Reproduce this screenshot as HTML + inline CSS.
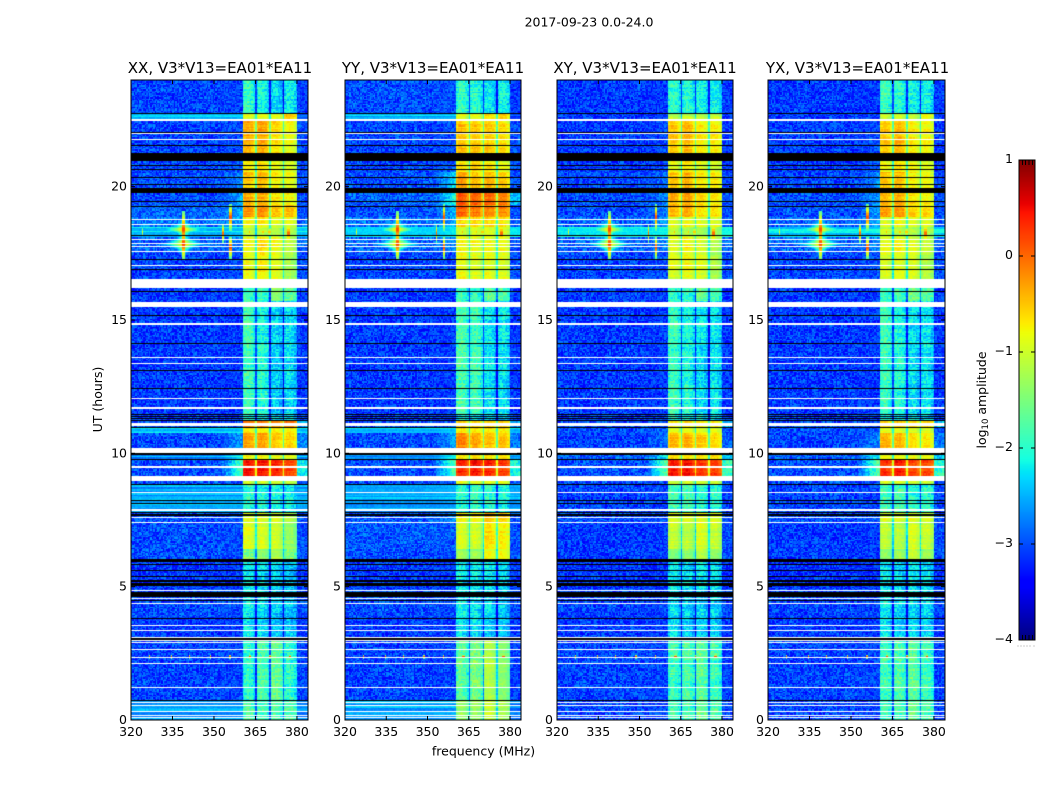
<!DOCTYPE html>
<html lang="en">
<head>
<meta charset="utf-8">
<title>2017-09-23 0.0-24.0</title>
<style>
html,body{margin:0;padding:0;background:#fff;}
#figure{position:relative;width:1050px;height:800px;overflow:hidden;background:#fff;font-family:"DejaVu Sans","Liberation Sans",sans-serif;}
canvas{position:absolute;display:block;}
#overlay{position:absolute;left:0;top:0;}
#overlay text{font-family:"DejaVu Sans","Liberation Sans",sans-serif;fill:#000;}
</style>
</head>
<body>
<div id="figure">
  <canvas id="heat-xx"></canvas>
  <canvas id="heat-yy"></canvas>
  <canvas id="heat-xy"></canvas>
  <canvas id="heat-yx"></canvas>
  <canvas id="colorbar"></canvas>
  <svg id="overlay" width="1050" height="800" viewBox="0 0 1050 800" xmlns="http://www.w3.org/2000/svg">
    <text x="589" y="26.500" text-anchor="middle" font-size="12.500">2017-09-23 0.0-24.0</text>
    <text x="220" y="73" text-anchor="middle" font-size="15">XX, V3*V13=EA01*EA11</text>
    <text x="433" y="73" text-anchor="middle" font-size="15">YY, V3*V13=EA01*EA11</text>
    <text x="645" y="73" text-anchor="middle" font-size="15">XY, V3*V13=EA01*EA11</text>
    <text x="857.500" y="73" text-anchor="middle" font-size="15">YX, V3*V13=EA01*EA11</text>
    <text x="483.500" y="755.500" text-anchor="middle" font-size="12.500">frequency (MHz)</text>
    <text transform="translate(102,399.500) rotate(-90)" text-anchor="middle" font-size="12.500">UT (hours)</text>
    <text transform="translate(986,400) rotate(-90)" text-anchor="middle" font-size="12.500">log<tspan font-size="8.500" dy="2">10</tspan><tspan dy="-2"> amplitude</tspan></text>
  </svg>
</div>
<script>
// ---- Axis ticks ----
const freqTicks = [320, 335, 350, 365, 380];
const freqTickLabels = ['320', '335', '350', '365', '380'];
const hourTicks = [0, 5, 10, 15, 20];
const hourTickLabels = ['0', '5', '10', '15', '20'];
const colorTicks = [1, 0, -1, -2, -3, -4];
const colorTickLabels = ['1', '0', '\u22121', '\u22122', '\u22123', '\u22124'];
const panelNames = ['xx', 'yy', 'xy', 'yx'];

// ---- Time segments: upper hour edge of each row of the level tables ----
const segmentTopHours = [24, 22.74, 22.54, 21.26, 20.55, 19.99, 19.76, 19.31, 18.83, 18.52, 18.08, 17.55, 16.2, 15.68, 14.14, 11.44, 11.21, 10.95, 10.76, 9.94, 9.75, 8.96, 8.81, 7.8, 7.39, 6.375, 6.04, 4.875, 3.83, 3, 0.75];

// ---- log10 amplitude by segment: background, edge at 360 MHz, four sub-bands, above 380 MHz ----
const xxLevels = [
[-3.05,-3.05,-2,-2.2,-2.4,-2.25,-3.1],[-2.5,-2.5,-1,-1,-1,-0.6,-3],[-3.05,-3,-0.45,-0.4,-0.7,-0.9,-3],[-3.05,-2.9,-0.8,-0.7,-0.9,-1,-3],
[-3,-2.7,-0.55,-0.5,-0.8,-0.9,-3],[-3,-2.7,-0.55,-0.5,-0.8,-0.9,-3],[-3,-2.5,-0.45,-0.45,-0.75,-0.85,-3],[-2.9,-2.5,-0.35,-0.3,-0.6,-0.55,-3],
[-2.8,-2.5,-0.9,-0.8,-1,-1,-2.9],[-2.3,-2.2,-1.1,-1.1,-1.2,-1.2,-2.2],[-2.9,-2.7,-0.9,-0.7,-0.9,-1.2,-2.9],[-3.05,-3,-0.9,-0.8,-0.95,-1.3,-3],
[-3.1,-3.1,-2,-1.95,-1.5,-1.7,-3.1],[-3.1,-3.1,-1.9,-2.15,-2.4,-2.35,-3.1],[-3.1,-3.1,-1.95,-2.05,-2.45,-2.35,-3.1],[-3.1,-3.1,-2.15,-2.25,-2.4,-2.4,-3.1],
[-3,-3,-0.2,-0.2,-0.3,-0.2,-2.6],[-2.4,-2.4,-0.8,-0.8,-0.8,-0.8,-2.4],[-3,-2.6,-0.35,-0.35,-0.55,-0.6,-2.7],[-2.6,-2,-0.8,-0.8,-0.9,-0.9,-2.5],
[-3,-1.7,0.35,0.35,0.25,0.1,-2.2],[-3,-3,-1.1,-1.1,-1.1,-1.2,-3],[-2.55,-2.55,-2.05,-2.15,-2.15,-2.25,-2.55],[-3,-2.9,-0.95,-0.95,-1,-1.2,-3],
[-3,-3,-0.95,-1,-1.05,-1.4,-3],[-3,-3,-1.6,-1.5,-1.3,-1.6,-3],[-3.1,-3.1,-2.25,-2.35,-2.35,-2.45,-3.1],[-3,-3,-2.2,-2.4,-2.45,-2.5,-3],
[-3.1,-3.1,-2.3,-2.4,-2.45,-2.5,-3.1],[-3.05,-3.05,-2.05,-1.85,-1.7,-2.05,-3.05],[-2.55,-2.55,-1.8,-1.9,-1.8,-1.8,-2.65]];
const yyLevels = [
[-3,-3,-2,-2.05,-2.3,-2.2,-3.1],[-2.4,-2.4,-0.9,-0.9,-0.7,-0.6,-3],[-3.05,-2.95,-0.55,-0.6,-0.6,-0.7,-3],[-3.05,-2.9,-0.8,-0.7,-0.8,-0.95,-3],
[-3,-2.2,-0.35,-0.55,-0.5,-0.6,-3],[-3,-2.2,-0.3,-0.5,-0.5,-0.6,-3],[-2.9,-1.9,0.05,-0.05,-0.05,-0.2,-2.5],[-3,-2.4,0,-0.15,-0.2,-0.25,-3],
[-2.8,-2.5,-0.7,-0.7,-0.7,-0.8,-2.9],[-2.3,-2.2,-1.05,-1,-1,-1,-2.2],[-2.9,-2.7,-0.85,-0.9,-0.9,-0.9,-3],[-3.05,-3,-0.9,-1,-0.95,-1,-3],
[-3.1,-3.1,-2,-2.05,-1.75,-1.9,-3.1],[-3.1,-3.1,-1.85,-1.95,-2.3,-2.25,-3.1],[-3.1,-3.1,-1.85,-1.9,-2.3,-2.3,-3.1],[-3.1,-3.1,-2.15,-2.25,-2.4,-2.4,-3.1],
[-3,-3,-0.7,-0.7,-0.7,-0.7,-2.6],[-2.4,-2.3,-0.75,-0.75,-0.75,-0.75,-2.4],[-3,-2.5,-0.2,-0.4,-0.55,-0.55,-2.8],[-2.6,-2,-0.7,-0.7,-0.7,-0.7,-2.5],
[-3,-1.6,0.3,0.4,0.3,0.2,-2.1],[-3,-3,-1,-1,-1,-1,-3],[-2.55,-2.5,-2.05,-1.95,-2.05,-2.15,-2.55],[-2.95,-2.6,-0.85,-0.85,-0.55,-0.65,-3],
[-2.95,-2.95,-1,-1.05,-0.7,-0.8,-3],[-3,-3,-1.4,-1.4,-0.95,-0.95,-3],[-3.1,-3.1,-2.25,-2.25,-2.25,-2.35,-3.1],[-3,-3,-2.2,-2.3,-2.35,-2.45,-3],
[-3.1,-3.1,-2.3,-2.3,-2.45,-2.45,-3.1],[-3.05,-3.05,-1.8,-1.6,-1.25,-1.5,-3.05],[-2.55,-2.55,-1.4,-1.4,-1.1,-1.3,-2.75]];
const xyLevels = [
[-3.1,-3.1,-2,-2.05,-2.2,-2.2,-3.1],[-3.1,-3.1,-1.2,-1.1,-1.2,-1.1,-3.1],[-3.1,-3,-0.6,-0.5,-0.8,-0.8,-3.1],[-3.1,-3,-0.9,-0.7,-0.9,-1,-3.1],
[-3.05,-2.8,-0.6,-0.5,-0.8,-0.8,-3],[-3.05,-2.8,-0.6,-0.5,-0.8,-0.8,-3],[-3,-2.7,-0.5,-0.45,-0.7,-0.8,-3],[-3,-2.7,-0.45,-0.4,-0.7,-0.7,-3],
[-2.9,-2.5,-1,-0.9,-1,-1,-2.9],[-2.1,-2,-1.1,-1.2,-1.3,-1.3,-2],[-2.9,-2.7,-0.95,-0.8,-1,-1.2,-2.9],[-3.05,-3,-1,-0.9,-1,-1.3,-3],
[-3.1,-3.1,-2,-1.95,-1.65,-1.8,-3.1],[-3.1,-3.1,-1.95,-2.15,-2.3,-2.3,-3.1],[-3.1,-3.1,-1.95,-2.1,-2.35,-2.3,-3.1],[-3.1,-3.1,-2.15,-2.2,-2.3,-2.4,-3.1],
[-3,-3,-0.7,-0.6,-0.7,-0.7,-2.4],[-3,-2.9,-0.95,-0.95,-1,-1,-3],[-3.05,-2.8,-0.5,-0.45,-0.6,-0.7,-2.9],[-2.9,-2.1,-0.8,-0.8,-0.8,-0.8,-2.4],
[-3,-1.5,0.35,0.4,0.2,0.15,-1.9],[-3,-3,-1.1,-1.1,-1.1,-1.1,-3],[-3.05,-3.05,-1.9,-1.85,-2.05,-2.05,-3.05],[-3,-2.9,-1,-1,-0.95,-1,-3],
[-3.1,-3.1,-1.15,-1.2,-1,-1.15,-3],[-3.1,-3.1,-1.5,-1.4,-1.15,-1.4,-3],[-3.15,-3.15,-2.25,-2.35,-2.25,-2.35,-3.15],[-3.05,-3.05,-2.3,-2.4,-2.4,-2.4,-3.05],
[-3.1,-3.1,-2.3,-2.4,-2.4,-2.4,-3.1],[-3.05,-3.05,-1.95,-1.85,-1.75,-1.95,-3.05],[-3.05,-3.05,-1.95,-1.85,-1.65,-1.85,-3.05]];
const yxLevels = [
[-3.1,-3.1,-1.95,-2.05,-2.2,-2.2,-3.1],[-3.1,-3.1,-1.15,-1.1,-1.2,-0.9,-3.1],[-3.1,-3,-0.6,-0.5,-0.8,-0.85,-3.1],[-3.1,-3,-0.9,-0.75,-0.9,-1,-3.1],
[-3.05,-2.7,-0.55,-0.5,-0.8,-0.85,-3],[-3.05,-2.7,-0.55,-0.5,-0.8,-0.85,-3],[-3,-2.6,-0.45,-0.4,-0.7,-0.8,-3],[-3,-2.6,-0.4,-0.35,-0.65,-0.7,-3],
[-2.9,-2.5,-1,-0.9,-1,-1,-2.9],[-2.3,-2.2,-1.1,-1.2,-1.25,-1.25,-2.2],[-2.9,-2.7,-0.95,-0.85,-1,-1.15,-2.9],[-3.05,-3,-1,-0.95,-1,-1.2,-3],
[-3.1,-3.1,-2,-1.95,-1.65,-1.8,-3.1],[-3.1,-3.1,-1.95,-2.15,-2.3,-2.3,-3.1],[-3.1,-3.1,-1.95,-2.1,-2.35,-2.3,-3.1],[-3.1,-3.1,-2.15,-2.2,-2.3,-2.4,-3.1],
[-3,-3,-0.7,-0.6,-0.7,-0.7,-2.4],[-3,-2.9,-0.95,-0.95,-1,-1,-3],[-3.05,-2.7,-0.45,-0.5,-0.7,-0.75,-2.8],[-2.9,-2.1,-0.8,-0.8,-0.8,-0.8,-2.4],
[-3,-1.6,0.2,0.3,0.1,0.1,-2],[-3,-3,-1.1,-1.1,-1.1,-1.1,-3],[-3.05,-3.05,-1.9,-1.85,-2.05,-2.05,-3.05],[-3,-2.9,-1,-1,-0.95,-1,-3],
[-3.1,-3.1,-1.15,-1.2,-1,-1.1,-3],[-3.1,-3.1,-1.5,-1.4,-1.15,-1.4,-3],[-3.15,-3.15,-2.25,-2.35,-2.25,-2.35,-3.15],[-3.05,-3.05,-2.3,-2.4,-2.4,-2.4,-3.05],
[-3.1,-3.1,-2.3,-2.4,-2.4,-2.4,-3.1],[-3.05,-3.05,-1.95,-1.85,-1.75,-1.95,-3.05],[-3.05,-3.05,-1.95,-1.85,-1.65,-1.85,-3.05]];
const panelLevels = [xxLevels, yyLevels, xyLevels, yxLevels];

// ---- Flagged times [upper hour, lower hour] ----
const blankedHours = [[22.54,22.46],[22.01,21.98],[21.79,21.75],[18.79,18.75],[18.6,18.56],[18.04,18],[17.89,17.85],[17.78,17.72],[17.59,17.55],[17.06,17.03],[16.54,16.2],[15.68,15.49],[14.89,14.81],[13.61,13.57],[13.39,13.35],[12.08,12.04],[11.74,11.66],[11.14,11.03],[10.2,10.01],[9.53,9.45],[9.15,8.96],[8.55,8.51],[7.91,7.84],[7.61,7.58],[7.43,7.39],[4.875,4.84],[4.575,4.54],[4.39,4.35],[3.56,3.53],[3.375,3.34],[3.11,3.08],[3,2.96],[2.91,2.87],[2.66,2.63],[2.36,2.33],[2.14,2.1],[1.24,1.2],[0.675,0.64],[0.58,0.54],[0.34,0.3],[0.19,0.15],[0.11,0.08]];
const zeroHours = [[22.76,22.73],[22.05,22.01],[21.58,21.54],[21.26,20.96],[20.81,20.78],[20.66,20.63],[20.36,20.33],[20.1,20.06],[19.95,19.76],[19.46,19.43],[19.28,19.24],[18.19,18.15],[17.29,17.25],[16.91,16.88],[16.09,16.05],[15.19,15.15],[14.14,14.1],[13.13,13.09],[12.45,12.41],[11.48,11.44],[11.4,11.36],[11.33,11.29],[11.25,11.21],[10.99,10.95],[10,9.94],[9.79,9.75],[8.85,8.81],[8.25,8.21],[8.14,8.1],[7.8,7.76],[7.72,7.65],[6.04,5.93],[5.85,5.81],[5.63,5.59],[5.4,5.36],[5.25,5.18],[5.14,5.03],[4.8,4.61],[4.5,4.46],[3.84,3.79],[3.07,3],[0.75,0.71]];

// ---- Broad interference stars: MHz, hour, peak log10 amp, half-width MHz, half-height hours ----
const rfiStars = [[339,18.4,0.3,13,0.8],[339,17.85,0.5,14,0.85]];
// ---- Narrow interference spurs: MHz, hour, peak log10 amp, half-height hours ----
const rfiSpurs = [[339,18.4,0.2,0.7],[339,17.85,0.3,0.6],[356,18.85,0.2,0.5],[356,17.72,0.25,0.4],[324.3,18.3,-0.6,0.2],[353.3,18.25,0.1,0.35],[362.7,18.3,-0.2,0.2],[367.8,18.3,-0.3,0.2],[370,18.3,-0.3,0.2],[377,18.25,0.1,0.4],[326.9,2.38,0.3,0.06],[334.7,2.38,0.3,0.06],[341.3,2.38,0.3,0.06],[348.6,2.38,0.3,0.06],[355.8,2.38,0.3,0.06],[363,2.38,0.3,0.06],[370.2,2.38,0.3,0.06],[377.5,2.38,0.3,0.06]];

// ---- Sub-band response by channel and speckle residuals (visual texture) ----
const spwShape = [-0.05,0.08,0.1,0.1,0.08,0.05,0,-0.1,-0.25];
const speckle = [0.3,-0.8,0.55,-0.2,0.9,-0.6,0.1,-1,0.45,0.7,-0.35,-0.9,0.2,0.85,-0.5,0.05,-0.75,1,-0.15,0.4,-0.95,0.6,-0.4,0.15,0.75,-0.7,0.95,-0.25,-0.55,0.5,0.25,-0.85,0.65,-0.1,-0.65,0.8,0,-0.45,0.35,-0.3,1,-0.9,0.1,0.55,-0.6,-0.2,0.7,-1,0.4,0.2,-0.75,0.9,-0.05,-0.5,0.6,0.3,-0.85,-0.15,0.85,-0.4,0.5,-0.95,0.15,0.65,-0.3,-0.7,0.95,-0.1,0.25,-0.55,0.75,-0.8,0.45,0.05,-0.35,0.8,-0.65,0.35,-0.45,-0.25,1,-0.9,0.6,0.1,-0.6,0.7,-0.2,-1,0.5,0.3,-0.5,0.9,-0.75,0.2,-0.15,0.4,-0.85];

// ---- Axis functions ----
const plotTop = 80, plotBottom = 720, plotHeight = plotBottom - plotTop;
const panelLeft = [131, 345, 557, 768];
const panelWidth = [177, 176, 176, 177];
function xScale(mhz, p) { return (mhz - 320) / 64 * panelWidth[p]; }
function yScale(hour) { return (24 - hour) / 24 * plotHeight; }

function jet(v) {
  const t = Math.max(0, Math.min(1, (v + 4) / 5));
  const seg = (pts) => {
    for (let i = 1; i < pts.length; i++) {
      if (t <= pts[i][0]) {
        const a = pts[i - 1], b = pts[i];
        return a[1] + (b[1] - a[1]) * (t - a[0]) / (b[0] - a[0]);
      }
    }
    return pts[pts.length - 1][1];
  };
  const r = seg([[0,0],[0.35,0],[0.66,1],[0.89,1],[1,0.5]]);
  const g = seg([[0,0],[0.125,0],[0.375,1],[0.64,1],[0.91,0],[1,0]]);
  const b = seg([[0,0.5],[0.11,1],[0.34,1],[0.65,0],[1,0]]);
  return 'rgb(' + Math.round(r * 255) + ',' + Math.round(g * 255) + ',' + Math.round(b * 255) + ')';
}

function segmentIndex(hour) {
  let idx = 0;
  for (let i = 0; i < segmentTopHours.length; i++) {
    if (hour <= segmentTopHours[i]) idx = i;
  }
  return idx;
}

function passbandValue(levels, mhz) {
  const bg = levels[0];
  const smooth = bg > -2.7;
  const bgAmp = smooth ? 0.1 : 0.38;
  if (mhz < 352) return { v: bg, amp: bgAmp, rowGain: smooth ? 0.22 : 0 };
  if (mhz < 360.5) return { v: bg + (levels[1] - bg) * (mhz - 352) / 8.5, amp: bgAmp * 0.8, rowGain: smooth ? 0.22 : 0 };
  if (mhz >= 380) return { v: levels[6], amp: bgAmp * 0.8, rowGain: smooth ? 0.22 : 0 };
  const spw = Math.min(3, Math.floor((mhz - 360.5) / 5));
  const ch = Math.floor((mhz - 360.5 - spw * 5) / 0.5 + 0.001);
  const level = levels[2 + spw];
  const amp = level < -1.5 ? 0.3 : 0.13;
  if (ch >= spwShape.length) return { v: level - 1.1, amp: 0.15, rowGain: 0.1 };
  return { v: level + spwShape[ch], amp: amp, rowGain: 0.1 };
}

function rfiValue(mhz, hour, base) {
  let out = base;
  rfiStars.forEach(function (s) {
    const dx = Math.abs(mhz - s[0]) / s[3];
    const dy = Math.abs(hour - s[1]) / s[4];
    const d = Math.pow(Math.sqrt(dx) + Math.sqrt(dy), 2);
    if (d < 1) out = Math.max(out, s[2] - (s[2] + 3.1) * Math.pow(d, 0.7));
  });
  rfiSpurs.forEach(function (s) {
    const dy = Math.abs(hour - s[1]) / s[3];
    if (Math.abs(mhz - s[0]) <= 0.25 && dy < 1) out = Math.max(out, s[2] - 2 * dy);
  });
  return out;
}

function drawPanel(p) {
  const canvas = document.getElementById('heat-' + panelNames[p]);
  canvas.width = panelWidth[p];
  canvas.height = plotHeight;
  canvas.style.left = panelLeft[p] + 'px';
  canvas.style.top = plotTop + 'px';
  const ctx = canvas.getContext('2d');
  const channels = 128, rowsCount = 480;
  const table = panelLevels[p];
  for (let r = 0; r < rowsCount; r++) {
    const hour = 24 - (r + 0.5) * 0.05;
    const levels = table[segmentIndex(hour)];
    const y0 = Math.round(yScale(24 - r * 0.05));
    const y1 = Math.round(yScale(24 - (r + 1) * 0.05));
    const rowTerm = speckle[(r * r * 3 + r + p * 7) % speckle.length];
    for (let c = 0; c < channels; c++) {
      const mhz = 320 + c * 0.5;
      const x0 = Math.round(xScale(mhz, p));
      const x1 = Math.round(xScale(mhz + 0.5, p));
      const cell = passbandValue(levels, mhz + 0.01);
      const mix = ((c + 1) * 73856093 ^ (r + 1) * 19349663 ^ (p + 1) * 83492791) >>> 0;
      const noiseIndex = ((mix ^ (mix >>> 13)) >>> 0) % speckle.length;
      const noise = speckle[noiseIndex];
      const base = cell.v + noise * cell.amp + rowTerm * cell.rowGain;
      ctx.fillStyle = jet(rfiValue(mhz + 0.25, hour, base));
      ctx.fillRect(x0, y0, x1 - x0, y1 - y0);
    }
  }
  const drawMask = function (list, color) {
    ctx.fillStyle = color;
    list.forEach(function (m) {
      const y0 = Math.round(yScale(m[0]));
      const y1 = Math.max(y0 + 1, Math.round(yScale(m[1])));
      ctx.fillRect(0, y0, canvas.width, y1 - y0);
    });
  };
  drawMask(zeroHours, '#000');
  drawMask(blankedHours, '#fff');
}
panelNames.forEach(function (_, p) { drawPanel(p); });

// ---- Colorbar ----
const cbLeft = 1019, cbRight = 1035, cbTop = 160, cbBottom = 640;
function cbScale(v) { return cbTop + (1 - v) / 5 * (cbBottom - cbTop); }
(function () {
  const canvas = document.getElementById('colorbar');
  canvas.width = cbRight - cbLeft;
  canvas.height = cbBottom - cbTop;
  canvas.style.left = cbLeft + 'px';
  canvas.style.top = cbTop + 'px';
  const ctx = canvas.getContext('2d');
  for (let y = 0; y < canvas.height; y++) {
    ctx.fillStyle = jet(1 - (y + 0.5) / canvas.height * 5);
    ctx.fillRect(0, y, canvas.width, 1);
  }
})();

// ---- Frames, ticks and tick labels ----
const svg = document.getElementById('overlay');
const NS = 'http://www.w3.org/2000/svg';
function makeLine(x1, y1, x2, y2) {
  const el = document.createElementNS(NS, 'line');
  el.setAttribute('x1', x1);
  el.setAttribute('y1', y1);
  el.setAttribute('x2', x2);
  el.setAttribute('y2', y2);
  el.setAttribute('stroke', '#000');
  el.setAttribute('stroke-width', '1');
  svg.appendChild(el);
  return el;
}
function makeText(x, y, anchor, str) {
  const el = document.createElementNS(NS, 'text');
  el.setAttribute('x', x);
  el.setAttribute('y', y);
  el.setAttribute('text-anchor', anchor);
  el.setAttribute('font-size', '12.5');
  el.textContent = str;
  svg.appendChild(el);
  return el;
}
function makeFrame(x, y, w, h) {
  const el = document.createElementNS(NS, 'rect');
  el.setAttribute('x', x);
  el.setAttribute('y', y);
  el.setAttribute('width', w);
  el.setAttribute('height', h);
  el.setAttribute('fill', 'none');
  el.setAttribute('stroke', '#000');
  el.setAttribute('stroke-width', '1');
  svg.appendChild(el);
  return el;
}

panelNames.forEach(function (name, p) {
  const left = panelLeft[p];
  const right = left + panelWidth[p];
  const frame = makeFrame(left, plotTop, panelWidth[p], plotHeight);
  
  
  freqTicks.forEach(function (f, i) {
    const x = left + xScale(f, p);
    const bottom = makeLine(x, plotBottom, x, plotBottom - 4);
    
    
    const top = makeLine(x, plotTop, x, plotTop + 4);
    
    
    const label = makeText(x, 736, 'middle', freqTickLabels[i]);
    
    
  });
  hourTicks.forEach(function (h, i) {
    const y = plotTop + yScale(h);
    const l = makeLine(left, y, left + 4, y);
    
    
    const r = makeLine(right, y, right - 4, y);
    
    
    const label = makeText(left - 4, y + 4, 'end', hourTickLabels[i]);
    
    
  });
});

const cbFrame = makeFrame(cbLeft, cbTop, cbRight - cbLeft, cbBottom - cbTop);


colorTicks.forEach(function (v, i) {
  const y = cbScale(v);
  if (v !== 1 && v !== -4) {
    const a = makeLine(cbLeft, y, cbLeft + 4, y);
    
    
    const b = makeLine(cbRight, y, cbRight - 4, y);
    
    
  }
  const label = makeText(1013, y + 3, 'end', colorTickLabels[i]);
  
  
});
[1022.5, 1025.5, 1029, 1032.5].forEach(function (x) {
  const a = makeLine(x, cbTop, x, cbTop + 5);
  
  
  const b = makeLine(x, cbBottom, x, cbBottom - 5);
  
  
});
[1017.5, 1020.5, 1023.5, 1026.5, 1029.5, 1033.5].forEach(function (x) {
  const dot = makeLine(x, 646, x + 1, 646);
  dot.setAttribute('stroke', '#999');
  
  
});
</script>
</body>
</html>
